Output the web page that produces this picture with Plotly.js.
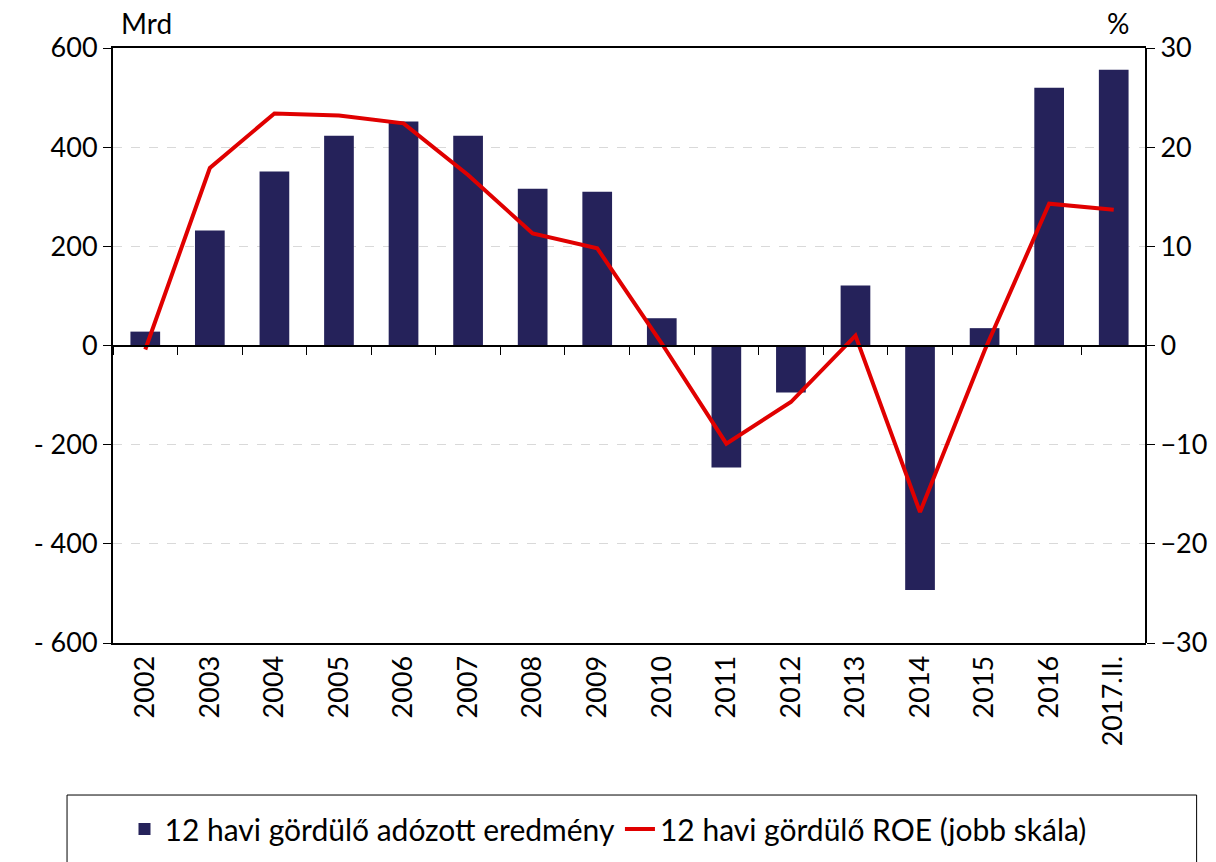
<!DOCTYPE html>
<html>
<head>
<meta charset="utf-8">
<script src="https://cdn.plot.ly/plotly-3.0.1.min.js"></script>
<style>
  html, body { margin: 0; padding: 0; background: #fff; }
  #myDiv { width: 1216px; height: 862px; }
</style>
</head>
<body>
<div id="myDiv"></div>
<script>
var years = ['2002', '2003', '2004', '2005', '2006', '2007', '2008', '2009',
             '2010', '2011', '2012', '2013', '2014', '2015', '2016', '2017.II.'];
// 12 havi gördülő adózott eredmény, Mrd
var profit = [28, 232, 351, 423, 452, 423, 316, 310, 55, -246, -95, 121, -493, 35, 520, 556];
// 12 havi gördülő ROE, %
var roe = [-0.4, 17.9, 23.4, 23.2, 22.4, 17.2, 11.3, 9.8, 0.2, -9.9, -5.7, 1.0, -16.8, -0.5, 14.3, 13.7];

var leftTicks = [-600, -400, -200, 0, 200, 400, 600];
var leftLabels = ['- 600', '- 400', '- 200', '0', '200', '400', '600'];
var rightTicks = [-30, -20, -10, 0, 10, 20, 30];

var font = 'Lato, "Open Sans", sans-serif';

var trace1 = {
  x: years,
  y: profit,
  type: 'bar',
  name: '12 havi gördülő adózott eredmény',
  marker: { color: '#25225a' },
  hoverinfo: 'x+y'
};

var trace2 = {
  x: years,
  y: roe,
  type: 'scatter',
  mode: 'lines',
  name: '12 havi gördülő ROE (jobb skála)',
  xaxis: 'x2',
  yaxis: 'y2',
  line: { color: '#e00000', width: 4 }
};

var layout = {
  width: 1216,
  height: 862,
  margin: { l: 113, r: 70, t: 48, b: 219, autoexpand: false },
  paper_bgcolor: '#fff',
  plot_bgcolor: '#fff',
  font: { family: font, size: 26, color: '#000' },
  bargap: 0.54,
  showlegend: true,
  xaxis: {
    type: 'category',
    showline: true,
    linecolor: '#000',
    linewidth: 2,
    mirror: true,
    ticks: '',
    tickangle: -90,
    tickfont: { size: 27 },
    showgrid: false,
    zeroline: false,
    automargin: false
  },
  xaxis2: {
    type: 'category',
    overlaying: 'x',
    matches: 'x',
    anchor: 'free',
    position: 0.5,
    side: 'bottom',
    showline: true,
    linecolor: '#000',
    linewidth: 2,
    ticks: 'outside',
    tickson: 'boundaries',
    ticklen: 8,
    tickcolor: '#000',
    showticklabels: false,
    showgrid: false,
    zeroline: false
  },
  yaxis: {
    range: [-600, 600],
    tickvals: leftTicks,
    ticktext: leftLabels,
    ticks: 'outside',
    ticklen: 8,
    tickcolor: '#000',
    tickfont: { size: 27 },
    showline: true,
    linecolor: '#000',
    linewidth: 2,
    showgrid: true,
    gridcolor: '#d9d9d9',
    griddash: 'dash',
    gridwidth: 1,
    zeroline: false,
    automargin: false
  },
  yaxis2: {
    range: [-30, 30],
    overlaying: 'y',
    side: 'right',
    anchor: 'free',
    position: 1,
    tickvals: rightTicks,
    ticks: 'outside',
    ticklen: 8,
    tickcolor: '#000',
    tickfont: { size: 27 },
    showline: true,
    linecolor: '#000',
    linewidth: 2,
    showgrid: false,
    zeroline: false,
    automargin: false
  },
  legend: {
    orientation: 'h',
    x: 0.5,
    xanchor: 'center',
    xref: 'container',
    yref: 'container',
    y: 0.0383,
    yanchor: 'middle',
    font: { size: 30 },
    bgcolor: 'rgba(0,0,0,0)'
  },
  shapes: [{
    type: 'rect',
    xref: 'paper',
    yref: 'paper',
    x0: -0.0445,
    x1: 1.049,
    y0: -0.2555,
    y1: -0.40,
    line: { color: '#000', width: 1 },
    fillcolor: 'rgba(0,0,0,0)',
    layer: 'below'
  }],
  annotations: [
    { text: 'Mrd', xref: 'paper', yref: 'paper', x: 0.006, y: 1.01, xanchor: 'left', yanchor: 'bottom', showarrow: false, font: { size: 28 } },
    { text: '%', xref: 'paper', yref: 'paper', x: 0.985, y: 1.01, xanchor: 'right', yanchor: 'bottom', showarrow: false, font: { size: 28 } }
  ]
};

Plotly.newPlot('myDiv', [trace1, trace2], layout, { displayModeBar: false, staticPlot: true });
</script>
</body>
</html>
